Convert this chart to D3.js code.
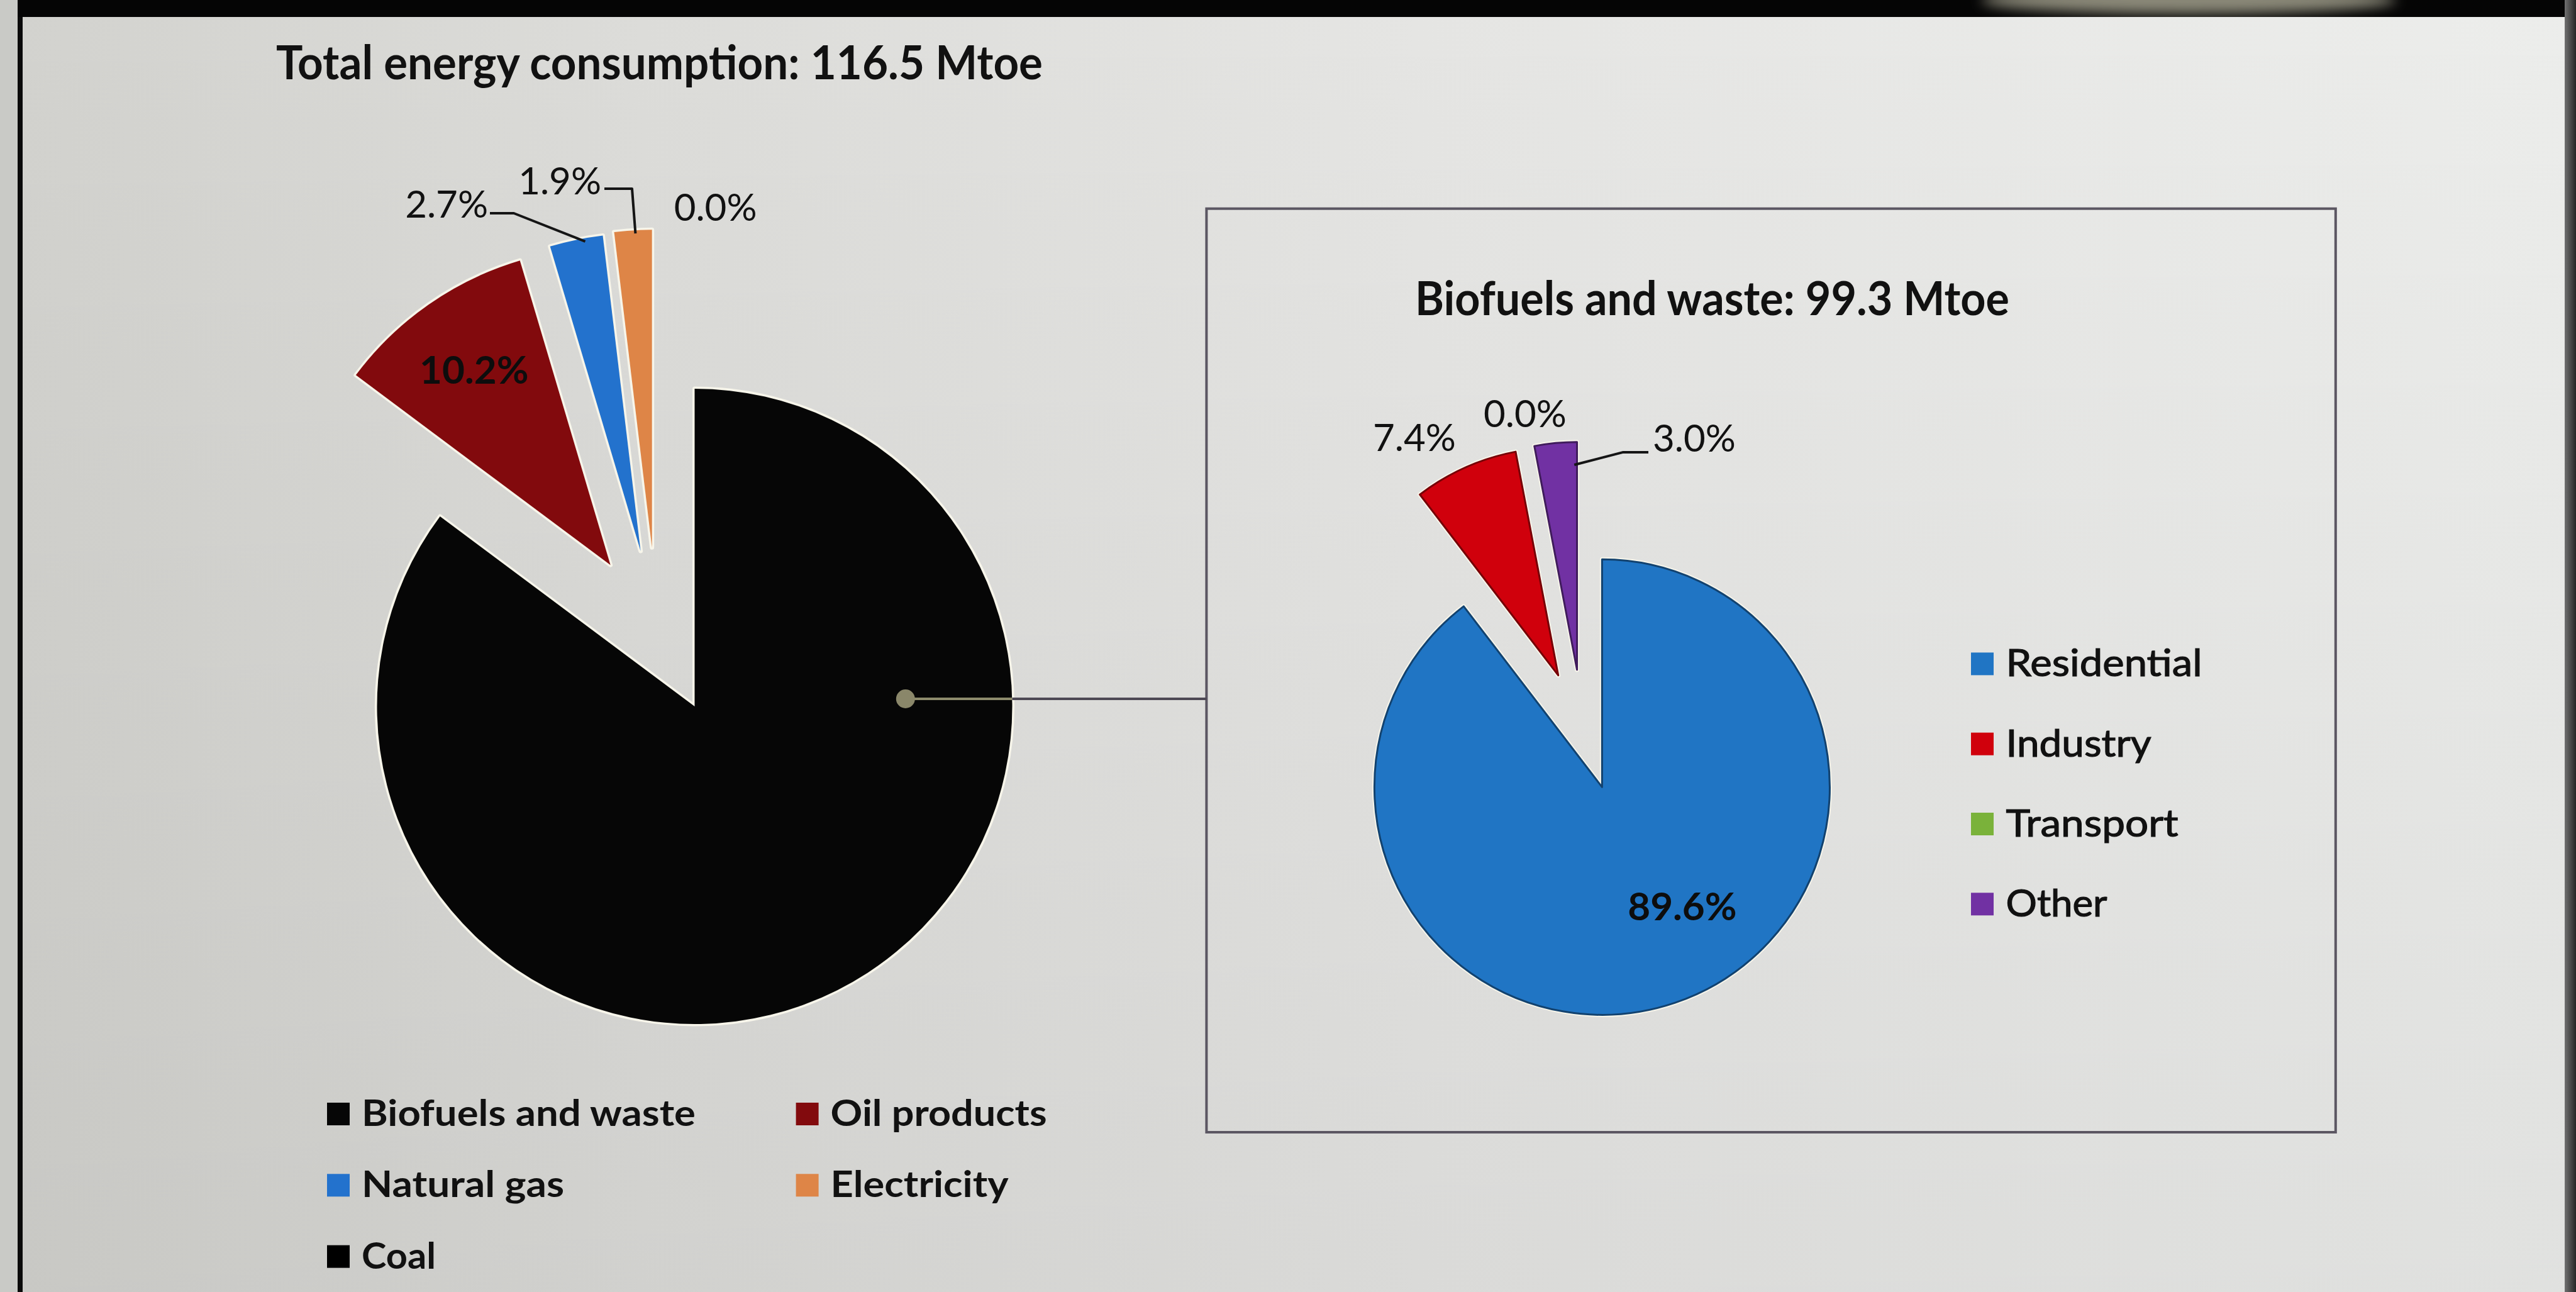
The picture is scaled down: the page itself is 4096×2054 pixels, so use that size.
<!DOCTYPE html>
<html>
<head>
<meta charset="utf-8">
<script src="https://cdn.jsdelivr.net/npm/d3@7"></script>
<style>
  html, body { margin: 0; padding: 0; overflow: hidden; background: #dcdcda; }
  svg { display: block; }
  text { font-family: Lato, "Open Sans", "Noto Sans", sans-serif; fill: #111; }
</style>
</head>
<body>
<svg id="chart" width="4096" height="2054"></svg>
<script>
// ---- Data -------------------------------------------------------------
const totalTitle = "Total energy consumption: 116.5 Mtoe";
const biofuelTitle = "Biofuels and waste: 99.3 Mtoe";

// Final energy consumption by fuel (% of 116.5 Mtoe)
const fuelNames  = ["Biofuels and waste", "Oil products", "Natural gas", "Electricity", "Coal"];
const fuelShares = [85.2, 10.2, 2.7, 1.9, 0.0];
const fuelColors = ["#060606", "#820a0d", "#2372cd", "#de8547", "#000000"];

// Biofuels and waste consumption by sector (% of 99.3 Mtoe)
const sectorNames  = ["Residential", "Industry", "Transport", "Other"];
const sectorShares = [89.6, 7.4, 0.0, 3.0];
const sectorColors = ["#2075c4", "#d0000c", "#7ab23a", "#7131a3"];

// ---- Layout -----------------------------------------------------------
const W = 4096, H = 2054;
const pie1 = { cx: 1104.5, cy: 1123, r: 505, explode: 0.518, explodeFrom: 1 };
const pie2 = { cx: 2547.4, cy: 1251.3, r: 362, explode: 0.527, explodeFrom: 1 };

// label placement for each slice (keyed by category)
const pie1Labels = {
  "Oil products": { kind: "inside", rf: 0.75 },
  "Natural gas":  { kind: "outside", x: 776, y: 346, anchor: "end",
                    leader: { ax: 3, ay: -7, elbow: 38, t: 0.66, rf: 0.99 } },
  "Electricity":  { kind: "outside", x: 956, y: 309, anchor: "end",
                    leader: { ax: 5, ay: -9, elbow: 44, t: 0.56, rf: 0.99 } },
  "Coal":         { kind: "outside", x: 1137.6, y: 351, anchor: "middle" }
};
const pie2Labels = {
  "Residential": { kind: "inside", rf: 0.63, angleDeg: 146 },
  "Industry":    { kind: "outside", x: 2249, y: 717, anchor: "middle" },
  "Transport":   { kind: "outside", x: 2425, y: 679, anchor: "middle" },
  "Other":       { kind: "outside", x: 2628, y: 718.4, anchor: "start",
                   leader: { ax: -7, ay: 0.5, elbow: -40, t: 0.93, rf: 0.9 } }
};

const box = { x: 1918.4, y: 331.7, x2: 3713.8, y2: 1800 };
const connectorY = 1111;
const dotFrac = 0.664;

const legend1 = { x0: 520, colStep: 745.6, y0: 1790, rowStep: 113.3, sw: 36, textOff: 55, size: 58,
  widths: { "Biofuels and waste": 531, "Oil products": 344, "Natural gas": 322, "Electricity": 283, "Coal": 118 } };
const legend2 = { x0: 3134, y0: 1075.4, rowStep: 127.3, sw: 36, textOff: 55.6, size: 60,
  widths: { "Residential": 312, "Industry": 231, "Transport": 274, "Other": 161 } };

// ---- Canvas -----------------------------------------------------------
const svg = d3.select("#chart");
const defs = svg.append("defs");

const bgGrad = defs.append("linearGradient").attr("id", "bgGrad")
  .attr("x1", 0).attr("x2", 1).attr("y1", 0).attr("y2", 0);
[[0, "#d2d2ce"], [0.25, "#dcdcd9"], [0.55, "#e5e5e3"], [1, "#ecedeb"]]
  .forEach(([o, c]) => bgGrad.append("stop").attr("offset", o).attr("stop-color", c));

const shade = defs.append("linearGradient").attr("id", "shade")
  .attr("x1", 0).attr("x2", 0).attr("y1", 0).attr("y2", 1);
shade.append("stop").attr("offset", 0).attr("stop-color", "#000").attr("stop-opacity", 0);
shade.append("stop").attr("offset", 1).attr("stop-color", "#000").attr("stop-opacity", 0.05);

const edgeGrad = defs.append("linearGradient").attr("id", "edgeGrad")
  .attr("x1", 0).attr("x2", 1).attr("y1", 0).attr("y2", 0);
edgeGrad.append("stop").attr("offset", 0).attr("stop-color", "#707070");
edgeGrad.append("stop").attr("offset", 1).attr("stop-color", "#262626");

defs.append("filter").attr("id", "soft").attr("x", "-50%").attr("y", "-200%")
  .attr("width", "200%").attr("height", "500%")
  .append("feGaussianBlur").attr("stdDeviation", 10);
defs.append("clipPath").attr("id", "bandClip")
  .append("rect").attr("x", 0).attr("y", 0).attr("width", W).attr("height", 27);

svg.append("rect").attr("width", W).attr("height", H).attr("fill", "url(#bgGrad)");
svg.append("rect").attr("width", W).attr("height", H).attr("fill", "url(#shade)");

// screen frame: outer strip, left edge, top band
svg.append("rect").attr("x", 0).attr("y", 0).attr("width", 28).attr("height", H).attr("fill", "#c9cac6");
svg.append("rect").attr("x", 28).attr("y", 0).attr("width", 8).attr("height", H).attr("fill", "#0a0a0a");
svg.append("rect").attr("x", 28).attr("y", 0).attr("width", W - 28).attr("height", 27).attr("fill", "#050505");
svg.append("g").attr("clip-path", "url(#bandClip)")
  .append("ellipse").attr("cx", 3480).attr("cy", 0).attr("rx", 330).attr("ry", 22)
  .attr("fill", "#8a8878").attr("filter", "url(#soft)");
svg.append("rect").attr("x", 4078).attr("y", 0).attr("width", 18).attr("height", H).attr("fill", "url(#edgeGrad)");

// ---- Detail box and connector -----------------------------------------
svg.append("rect")
  .attr("x", box.x).attr("y", box.y)
  .attr("width", box.x2 - box.x).attr("height", box.y2 - box.y)
  .attr("fill", "none").attr("stroke", "#5b5662").attr("stroke-width", 4);

// ---- Pie drawing --------------------------------------------------------
function layoutPie(cfg, names, shares, colors) {
  const data = names.map((n, i) => ({ name: n, share: shares[i], color: colors[i], index: i }));
  const arcs = d3.pie().sort(null).value(d => d.share)(data);
  const ex = arcs.filter(a => a.data.index >= cfg.explodeFrom);
  const groupMid = (d3.min(ex, a => a.startAngle) + d3.max(ex, a => a.endAngle)) / 2;
  arcs.forEach(a => {
    if (a.data.index >= cfg.explodeFrom) {
      const mid = (a.startAngle + a.endAngle) / 2;
      const dir = (mid + groupMid) / 2;
      const dist = cfg.explode * cfg.r;
      a.dx = dist * Math.sin(dir);
      a.dy = -dist * Math.cos(dir);
    } else { a.dx = 0; a.dy = 0; }
  });
  return arcs;
}

function polar(cfg, a, angle, radius) {
  return [cfg.cx + a.dx + radius * Math.sin(angle), cfg.cy + a.dy - radius * Math.cos(angle)];
}

function drawPie(cfg, arcs, edgeColor, labels) {
  const arc = d3.arc().innerRadius(0).outerRadius(cfg.r);
  const g = svg.append("g");
  const visible = arcs.filter(a => a.endAngle - a.startAngle > 0);

  // light rim around each slice
  g.selectAll("path.rim").data(visible).join("path").attr("class", "rim")
    .attr("transform", a => `translate(${cfg.cx + a.dx},${cfg.cy + a.dy})`)
    .attr("d", arc).attr("fill", "none")
    .attr("stroke", "#f7f5ea").attr("stroke-width", 7).attr("stroke-linejoin", "round");

  g.selectAll("path.slice").data(visible).join("path").attr("class", "slice")
    .attr("transform", a => `translate(${cfg.cx + a.dx},${cfg.cy + a.dy})`)
    .attr("d", arc)
    .attr("fill", a => a.data.color)
    .attr("stroke", a => edgeColor ? d3.color(a.data.color).darker(1.6) : "none")
    .attr("stroke-width", edgeColor ? 3 : 0)
    .attr("stroke-linejoin", "round");

  // data labels
  arcs.forEach(a => {
    const lab = labels[a.data.name];
    if (!lab) return;
    const txt = a.data.share.toFixed(1) + "%";
    if (lab.kind === "inside") {
      const ang = lab.angleDeg != null ? lab.angleDeg * Math.PI / 180 : (a.startAngle + a.endAngle) / 2;
      const [x, y] = polar(cfg, a, ang, lab.rf * cfg.r);
      svg.append("text").attr("x", x).attr("y", y).attr("dy", "0.36em")
        .attr("text-anchor", "middle").attr("font-size", 62).attr("font-weight", 700)
        .style("fill", "#0d0d0d").text(txt);
    } else {
      svg.append("text").attr("x", lab.x).attr("y", lab.y)
        .attr("text-anchor", lab.anchor).attr("font-size", 60).attr("font-weight", 400)
        .text(txt);
      if (lab.leader) {
        const L = lab.leader;
        const start = [lab.x + L.ax, lab.y + L.ay];
        const elbow = [start[0] + L.elbow, start[1]];
        const ang = a.startAngle + L.t * (a.endAngle - a.startAngle);
        const end = polar(cfg, a, ang, L.rf * cfg.r);
        svg.append("path").attr("d", d3.line()([start, elbow, end]))
          .attr("fill", "none").attr("stroke", "#151515").attr("stroke-width", 4)
          .attr("stroke-linejoin", "round");
      }
    }
  });
}

const arcs1 = layoutPie(pie1, fuelNames, fuelShares, fuelColors);
const arcs2 = layoutPie(pie2, sectorNames, sectorShares, sectorColors);
drawPie(pie1, arcs1, false, pie1Labels);
drawPie(pie2, arcs2, true, pie2Labels);

// connector from the biofuels slice to the detail box
const dotX = pie1.cx + dotFrac * pie1.r;
const rimX = pie1.cx + Math.sqrt(pie1.r * pie1.r - (connectorY - pie1.cy) ** 2);
svg.append("line").attr("x1", rimX).attr("x2", box.x).attr("y1", connectorY).attr("y2", connectorY)
  .attr("stroke", "#4d4854").attr("stroke-width", 4);
svg.append("line").attr("x1", dotX).attr("x2", rimX).attr("y1", connectorY).attr("y2", connectorY)
  .attr("stroke", "#8d8b6c").attr("stroke-width", 4);
svg.append("circle").attr("cx", dotX).attr("cy", connectorY).attr("r", 15).attr("fill", "#8a876a");

// ---- Titles ---------------------------------------------------------------
svg.append("text").attr("x", 439).attr("y", 126)
  .attr("font-size", 74).attr("font-weight", 700)
  .attr("textLength", 1219).attr("lengthAdjust", "spacingAndGlyphs")
  .text(totalTitle);
svg.append("text").attr("x", 2250).attr("y", 501)
  .attr("font-size", 74).attr("font-weight", 700)
  .attr("textLength", 945).attr("lengthAdjust", "spacingAndGlyphs")
  .text(biofuelTitle);

// ---- Legends --------------------------------------------------------------
const lg1 = svg.append("g");
fuelNames.forEach((n, i) => {
  const col = i % 2, row = Math.floor(i / 2);
  const x = legend1.x0 + col * legend1.colStep;
  const y = legend1.y0 + row * legend1.rowStep;
  lg1.append("rect").attr("x", x).attr("y", y - legend1.sw - 1)
    .attr("width", legend1.sw).attr("height", legend1.sw).attr("fill", fuelColors[i]);
  lg1.append("text").attr("x", x + legend1.textOff).attr("y", y)
    .attr("font-size", legend1.size).attr("font-weight", 700)
    .attr("textLength", legend1.widths[n]).attr("lengthAdjust", "spacingAndGlyphs")
    .text(n);
});

const lg2 = svg.append("g");
sectorNames.forEach((n, i) => {
  const x = legend2.x0;
  const y = legend2.y0 + i * legend2.rowStep;
  lg2.append("rect").attr("x", x).attr("y", y - legend2.sw - 2)
    .attr("width", legend2.sw).attr("height", legend2.sw).attr("fill", sectorColors[i]);
  lg2.append("text").attr("x", x + legend2.textOff).attr("y", y)
    .attr("font-size", legend2.size).attr("font-weight", 400)
    .attr("textLength", legend2.widths[n]).attr("lengthAdjust", "spacingAndGlyphs")
    .style("stroke", "#111").style("stroke-width", 1.2)
    .text(n);
});
</script>
</body>
</html>
